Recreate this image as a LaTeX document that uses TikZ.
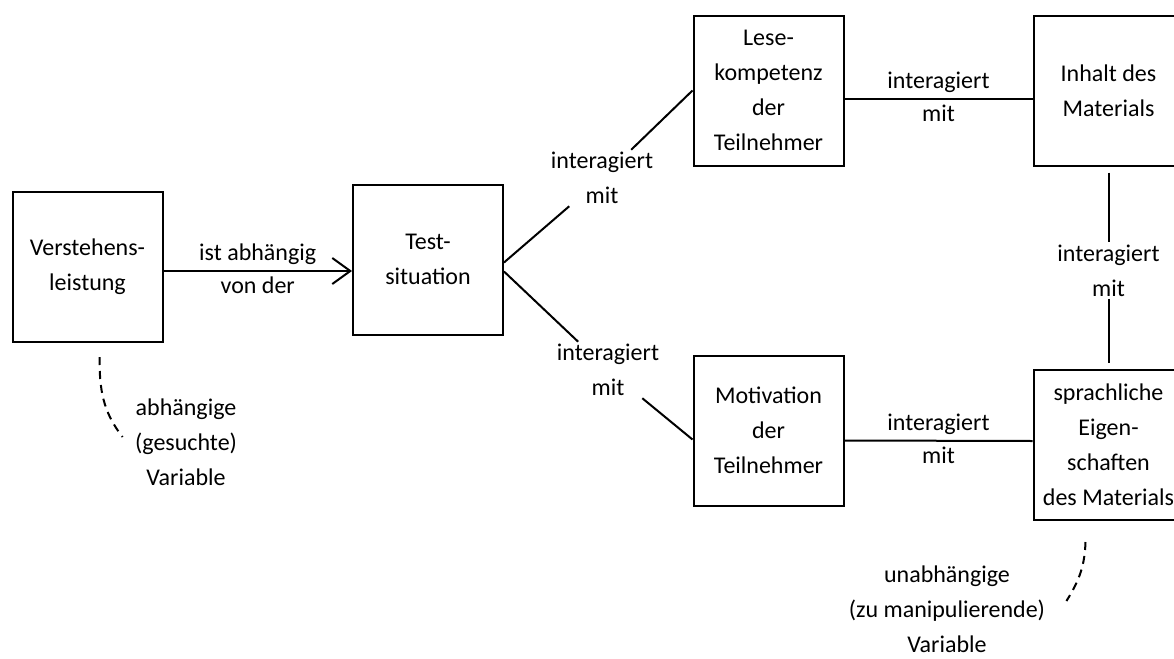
\documentclass[tikz,border=0pt]{standalone}
\usepackage{fontspec}
\setmainfont{Carlito}
\usetikzlibrary{arrows.meta}

\begin{document}
\begin{tikzpicture}[x=0.5pt, y=-0.5pt,
        font=\fontsize{12}{17.5}\selectfont,
        box/.style={draw, line width=1pt, minimum size=75pt,
            align=center, inner sep=2pt},
        lbl/.style={align=center, inner sep=1pt},
        link/.style={line width=1pt},
        hint/.style={line width=1pt, dash pattern=on 4pt off 3pt}]

        \useasboundingbox (0,0) rectangle (1174,659);

        %% ── Kästen ────────────────────────────────────────────────────────
        \node[box] (verst)  at (87.5,267)    {Verstehens-\\leistung};
        \node[box] (test)   at (428,259.5)   {Test-\\situation};
        \node[box] (lese)   at (768.5,90.5)  {Lese-\\kompetenz\\der\\Teilnehmer};
        \node[box] (motiv)  at (768.5,430.5) {Motivation\\der\\Teilnehmer};
        \node[box] (inhalt) at (1108.5,90.5) {Inhalt des\\Materials};
        \node[box] (sprach) at (1108.5,445)  {sprachliche\\Eigen-\\schaften\\des Materials};

        %% ── Abhängigkeit ──────────────────────────────────────────────────
        \draw[link, -{Straight Barb[length=9pt, width=13pt]}]
            ([yshift=-2pt]verst.east) -- ([yshift=-2pt]verst.east -| test.west)
            node[midway, above, inner sep=2.5pt] (dep1) {ist abhängig}
            node[midway, below, inner sep=2.5pt] (dep2) {von der};

        %% ── Interaktionen ─────────────────────────────────────────────────
        \node[lbl] (iaTL) at (602,178) {interagiert\\mit};
        \draw[link] ([yshift=-1.5pt]test.east) -- (iaTL) -- (lese.west);

        \node[lbl] (iaTM) at (608,370) {interagiert\\mit};
        \draw[link] ([yshift=-6pt]test.east) -- (iaTM) -- ([yshift=-4.5pt]motiv.west);

        \draw[link] ([yshift=-4pt]lese.east) -- ([yshift=-4pt]inhalt.west)
            node[midway, above, inner sep=2.5pt] (ia3) {interagiert}
            node[midway, below, inner sep=2.5pt] (ia4) {mit};

        \draw[link] ([yshift=-5pt]motiv.east) -- ([yshift=2pt]sprach.west)
            node[midway, above, inner sep=2.5pt] (ia5) {interagiert}
            node[midway, below, inner sep=2.5pt] (ia6) {mit};

        \node[lbl] (iaIS) at (1108.5,270.5) {interagiert\\mit};
        \draw[link, shorten <=3pt] (inhalt.south) -- (iaIS);
        \draw[link, shorten >=3pt] (iaIS) -- (sprach.north);

        %% ── Variablen ─────────────────────────────────────────────────────
        \node[lbl] (avLbl) at (186,442) {abhängige\\(gesuchte)\\Variable};
        \draw[hint] ([xshift=6pt, yshift=-7pt]verst.south)
            to[out=-90, in=128] ([xshift=-5pt, yshift=2.5pt]avLbl.west);

        \node[lbl] (uvLbl) at (947,609) {unabhängige\\(zu manipulierende)\\Variable};
        \draw[hint] ([xshift=-11.5pt, yshift=-10.5pt]sprach.south)
            to[out=-92, in=58] ([xshift=9.5pt, yshift=4pt]uvLbl.east);

    \end{tikzpicture}
\end{document}
